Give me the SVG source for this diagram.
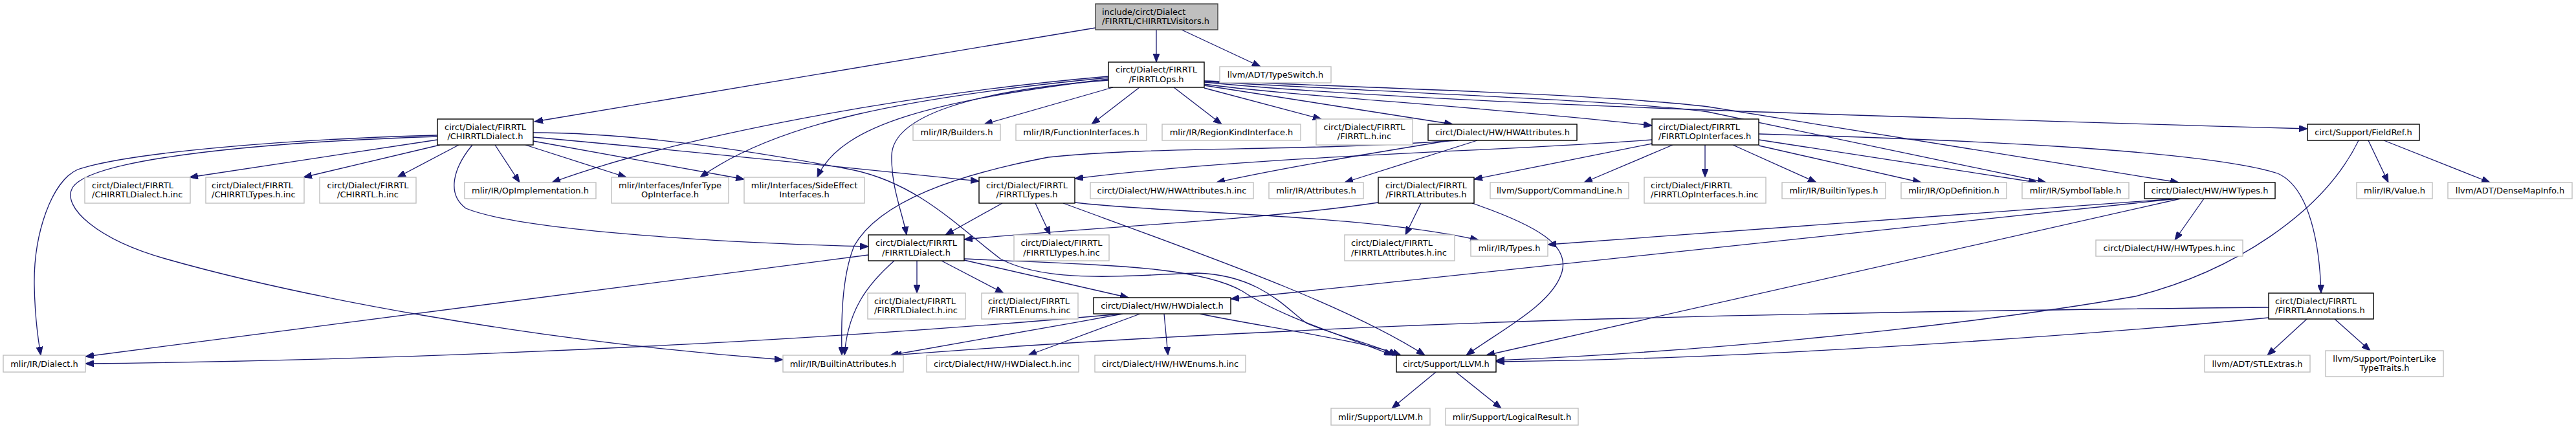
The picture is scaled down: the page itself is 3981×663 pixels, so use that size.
<svg xmlns="http://www.w3.org/2000/svg" width="3981" height="663" viewBox="0 0 3981 663">
<style>
text{font-family:"DejaVu Sans","Liberation Sans",sans-serif;font-size:13px;fill:#000}
.m{text-anchor:middle}
.d rect{fill:#fff;stroke:#000;stroke-width:1.4}
.u rect{fill:#fff;stroke:#bfbfbf;stroke-width:1.4}
.r rect{fill:#bfbfbf;stroke:#404040;stroke-width:1.4}
#edges path{fill:none;stroke:#191970;stroke-width:1.3;marker-end:url(#ah)}
</style>
<defs>
<marker id="ah" markerUnits="userSpaceOnUse" markerWidth="14" markerHeight="10" refX="13" refY="5" orient="auto" viewBox="0 0 14 10"><path d="M0,0 L13,5 L0,10 z" fill="#191970" stroke="#191970" stroke-width="1"/></marker>
</defs>
<rect width="3981" height="663" fill="#fff"/>
<g id="edges">
<path d="M1693,43 L826,188"/>
<path d="M1787,46 L1787,96"/>
<path d="M1826,46 L1948,103"/>
<path d="M1720,135 L1521,192"/>
<path d="M1761,135 L1687,192"/>
<path d="M1814,135 L1888,192"/>
<path d="M1861,136 L2042,184"/>
<path d="M1861,132 L2245,192"/>
<path d="M1861,130 C1990,148 2300,165 2553,194"/>
<path d="M1861,127 C2200,160 2900,180 3566,199"/>
<path d="M1861,126 C2250,148 2500,155 2640,173 L3162,282"/>
<path d="M1861,125 C2200,138 2500,148 2640,165 L3367,282"/>
<path d="M1713,118 C1400,145 1050,210 853,282"/>
<path d="M1713,120 C1400,150 1200,190 1082,274"/>
<path d="M1713,122 C1450,155 1300,190 1263,274"/>
<path d="M1713,124 C1500,140 1380,180 1378,240 C1377,290 1395,330 1401,363"/>
<path d="M676,216 L293,274"/>
<path d="M680,224 L469,274"/>
<path d="M709,224 L614,274"/>
<path d="M676,209 C450,215 200,235 120,262 C80,280 52,360 53,440 C54,500 60,530 63,549"/>
<path d="M676,211 C400,220 140,245 112,290 C95,320 150,370 256,400 C450,455 800,525 1210,556"/>
<path d="M765,224 L803,282"/>
<path d="M812,224 L968,274"/>
<path d="M824,218 L1150,277"/>
<path d="M824,212 C1050,232 1300,258 1513,280"/>
<path d="M824,205 C1000,205 1200,240 1320,263 C1420,285 1480,350 1546,400 C1620,440 1750,425 1850,422 C1950,425 1990,480 2020,500 C2070,520 2130,535 2159,549"/>
<path d="M730,224 C700,260 690,300 720,322 C800,355 1100,375 1342,381"/>
<path d="M1549,314 L1461,363"/>
<path d="M1600,314 L1623,363"/>
<path d="M1643,314 C1850,390 2080,470 2202,549"/>
<path d="M1661,313 C1800,330 2100,330 2285,371"/>
<path d="M2130,313 C1950,340 1700,350 1490,370"/>
<path d="M2196,314 L2172,363"/>
<path d="M2275,314 C2380,350 2425,380 2414,420 C2400,470 2320,510 2266,549"/>
<path d="M2553,216 C2300,235 1950,240 1661,276"/>
<path d="M2553,222 L2278,277"/>
<path d="M2585,224 L2448,282"/>
<path d="M2635,224 L2635,274"/>
<path d="M2678,224 L2807,282"/>
<path d="M2718,225 L2969,282"/>
<path d="M2718,216 L3148,282"/>
<path d="M2718,207 C3000,215 3400,230 3520,268 C3570,290 3585,380 3587,453"/>
<path d="M2241,217 C2100,240 1980,260 1880,282"/>
<path d="M2283,217 L2078,282"/>
<path d="M2253,217 C2000,235 1800,225 1620,243 C1480,270 1360,310 1320,380 C1300,430 1300,500 1301,549"/>
<path d="M1417,403 L1417,453"/>
<path d="M1455,403 L1551,453"/>
<path d="M1490,402 L1744,460"/>
<path d="M1342,394 L132,551"/>
<path d="M1382,403 C1340,440 1310,480 1305,549"/>
<path d="M1490,400 C1700,410 1850,410 1920,450 C1980,490 2080,520 2152,549"/>
<path d="M1734,485 C1400,515 800,555 132,562"/>
<path d="M1735,485 C1600,510 1450,535 1376,549"/>
<path d="M1762,485 L1589,549"/>
<path d="M1799,485 L1805,549"/>
<path d="M1854,485 C1950,505 2100,525 2165,549"/>
<path d="M3406,307 L3361,371"/>
<path d="M3365,307 C3200,318 2800,350 2392,378"/>
<path d="M3365,307 C3150,330 2500,400 1902,462"/>
<path d="M3370,307 L2297,549"/>
<path d="M3645,217 C3590,330 3450,420 3300,458 C3000,510 2600,545 2312,557"/>
<path d="M3660,217 L3691,282"/>
<path d="M3684,217 L3848,282"/>
<path d="M3506,475 C3000,480 2400,490 1990,512 C1700,525 1500,540 1380,549"/>
<path d="M3506,491 C3200,520 2700,555 2312,559"/>
<path d="M3565,493 L3504,549"/>
<path d="M3608,493 L3663,542"/>
<path d="M2219,575 L2151,631"/>
<path d="M2250,575 L2320,631"/>
</g>
<g id="n0" class="r"><rect x="1693" y="6" width="189" height="40"/><text x="1703" y="22.5">include/circt/Dialect</text><text x="1703" y="37">/FIRRTL/CHIRRTLVisitors.h</text></g>
<g id="n1" class="d"><rect x="1713" y="96" width="148" height="39"/><text class="m" x="1787" y="112">circt/Dialect/FIRRTL</text><text class="m" x="1787" y="126.5">/FIRRTLOps.h</text></g>
<g id="n2" class="u"><rect x="1885" y="103" width="172" height="25"/><text class="m" x="1971" y="120">llvm/ADT/TypeSwitch.h</text></g>
<g id="n3" class="d"><rect x="676" y="184" width="148" height="40"/><text class="m" x="750" y="200.5">circt/Dialect/FIRRTL</text><text class="m" x="750" y="215">/CHIRRTLDialect.h</text></g>
<g id="n4" class="u"><rect x="1411" y="192" width="135" height="25"/><text class="m" x="1478.5" y="208.5">mlir/IR/Builders.h</text></g>
<g id="n5" class="u"><rect x="1570" y="192" width="202" height="25"/><text class="m" x="1671" y="208.5">mlir/IR/FunctionInterfaces.h</text></g>
<g id="n6" class="u"><rect x="1796" y="192" width="214" height="25"/><text class="m" x="1903" y="208.5">mlir/IR/RegionKindInterface.h</text></g>
<g id="n7" class="u"><rect x="2034" y="184" width="149" height="40"/><text class="m" x="2108.5" y="200.5">circt/Dialect/FIRRTL</text><text class="m" x="2108.5" y="215">/FIRRTL.h.inc</text></g>
<g id="n8" class="d"><rect x="2207" y="192" width="230" height="25"/><text class="m" x="2322" y="208.5">circt/Dialect/HW/HWAttributes.h</text></g>
<g id="n9" class="d"><rect x="2553" y="184" width="165" height="40"/><text x="2563" y="200.5">circt/Dialect/FIRRTL</text><text x="2563" y="215">/FIRRTLOpInterfaces.h</text></g>
<g id="n10" class="d"><rect x="3566" y="192" width="173" height="25"/><text class="m" x="3652.5" y="208.5">circt/Support/FieldRef.h</text></g>
<g id="n11" class="u"><rect x="131" y="274" width="163" height="40"/><text x="142" y="290.5">circt/Dialect/FIRRTL</text><text x="142" y="305">/CHIRRTLDialect.h.inc</text></g>
<g id="n12" class="u"><rect x="318" y="274" width="152" height="40"/><text x="327" y="290.5">circt/Dialect/FIRRTL</text><text x="327" y="305">/CHIRRTLTypes.h.inc</text></g>
<g id="n13" class="u"><rect x="494" y="274" width="149" height="40"/><text class="m" x="568.5" y="290.5">circt/Dialect/FIRRTL</text><text class="m" x="568.5" y="305">/CHIRRTL.h.inc</text></g>
<g id="n14" class="u"><rect x="718" y="282" width="203" height="25"/><text class="m" x="819.5" y="298.5">mlir/IR/OpImplementation.h</text></g>
<g id="n15" class="u"><rect x="945" y="274" width="181" height="40"/><text class="m" x="1035.5" y="290.5">mlir/Interfaces/InferType</text><text class="m" x="1035.5" y="305">OpInterface.h</text></g>
<g id="n16" class="u"><rect x="1150" y="274" width="186" height="40"/><text class="m" x="1243" y="290.5">mlir/Interfaces/SideEffect</text><text class="m" x="1243" y="305">Interfaces.h</text></g>
<g id="n17" class="d"><rect x="1513" y="274" width="148" height="40"/><text class="m" x="1587" y="290.5">circt/Dialect/FIRRTL</text><text class="m" x="1587" y="305">/FIRRTLTypes.h</text></g>
<g id="n18" class="u"><rect x="1685" y="282" width="252" height="25"/><text class="m" x="1811" y="298.5">circt/Dialect/HW/HWAttributes.h.inc</text></g>
<g id="n19" class="u"><rect x="1961" y="282" width="146" height="25"/><text class="m" x="2034" y="298.5">mlir/IR/Attributes.h</text></g>
<g id="n20" class="d"><rect x="2130" y="274" width="148" height="40"/><text class="m" x="2204" y="290.5">circt/Dialect/FIRRTL</text><text class="m" x="2204" y="305">/FIRRTLAttributes.h</text></g>
<g id="n21" class="u"><rect x="2303" y="282" width="214" height="25"/><text class="m" x="2410" y="298.5">llvm/Support/CommandLine.h</text></g>
<g id="n22" class="u"><rect x="2541" y="274" width="188" height="40"/><text x="2551" y="290.5">circt/Dialect/FIRRTL</text><text x="2551" y="305">/FIRRTLOpInterfaces.h.inc</text></g>
<g id="n23" class="u"><rect x="2754" y="282" width="160" height="25"/><text class="m" x="2834" y="298.5">mlir/IR/BuiltinTypes.h</text></g>
<g id="n24" class="u"><rect x="2938" y="282" width="163" height="25"/><text class="m" x="3019.5" y="298.5">mlir/IR/OpDefinition.h</text></g>
<g id="n25" class="u"><rect x="3125" y="282" width="165" height="25"/><text class="m" x="3207.5" y="298.5">mlir/IR/SymbolTable.h</text></g>
<g id="n26" class="d"><rect x="3314" y="282" width="202" height="25"/><text class="m" x="3415" y="298.5">circt/Dialect/HW/HWTypes.h</text></g>
<g id="n27" class="u"><rect x="3642" y="282" width="117" height="25"/><text class="m" x="3700.5" y="298.5">mlir/IR/Value.h</text></g>
<g id="n28" class="u"><rect x="3783" y="282" width="192" height="25"/><text class="m" x="3879" y="298.5">llvm/ADT/DenseMapInfo.h</text></g>
<g id="n29" class="d"><rect x="1342" y="363" width="148" height="40"/><text class="m" x="1416" y="380">circt/Dialect/FIRRTL</text><text class="m" x="1416" y="394.5">/FIRRTLDialect.h</text></g>
<g id="n30" class="u"><rect x="1567" y="363" width="147" height="40"/><text class="m" x="1640.5" y="380">circt/Dialect/FIRRTL</text><text class="m" x="1640.5" y="394.5">/FIRRTLTypes.h.inc</text></g>
<g id="n31" class="u"><rect x="2078" y="363" width="170" height="40"/><text x="2088" y="380">circt/Dialect/FIRRTL</text><text x="2088" y="394.5">/FIRRTLAttributes.h.inc</text></g>
<g id="n32" class="u"><rect x="2273" y="371" width="119" height="25"/><text class="m" x="2332.5" y="387.5">mlir/IR/Types.h</text></g>
<g id="n33" class="u"><rect x="3239" y="371" width="227" height="25"/><text class="m" x="3352.5" y="387.5">circt/Dialect/HW/HWTypes.h.inc</text></g>
<g id="n34" class="u"><rect x="1341" y="453" width="151" height="40"/><text x="1351" y="469.5">circt/Dialect/FIRRTL</text><text x="1351" y="484">/FIRRTLDialect.h.inc</text></g>
<g id="n35" class="u"><rect x="1517" y="453" width="149" height="40"/><text x="1527" y="469.5">circt/Dialect/FIRRTL</text><text x="1527" y="484">/FIRRTLEnums.h.inc</text></g>
<g id="n36" class="d"><rect x="1690" y="460" width="212" height="25"/><text class="m" x="1796" y="477">circt/Dialect/HW/HWDialect.h</text></g>
<g id="n37" class="d"><rect x="3506" y="453" width="162" height="40"/><text x="3516" y="469.5">circt/Dialect/FIRRTL</text><text x="3516" y="484">/FIRRTLAnnotations.h</text></g>
<g id="n38" class="u"><rect x="5" y="549" width="127" height="26"/><text class="m" x="68.5" y="566.5">mlir/IR/Dialect.h</text></g>
<g id="n39" class="u"><rect x="1210" y="549" width="186" height="26"/><text class="m" x="1303" y="566.5">mlir/IR/BuiltinAttributes.h</text></g>
<g id="n40" class="u"><rect x="1432" y="549" width="235" height="26"/><text class="m" x="1549.5" y="566.5">circt/Dialect/HW/HWDialect.h.inc</text></g>
<g id="n41" class="u"><rect x="1692" y="549" width="233" height="26"/><text class="m" x="1808.5" y="566.5">circt/Dialect/HW/HWEnums.h.inc</text></g>
<g id="n42" class="d"><rect x="2158" y="549" width="154" height="26"/><text class="m" x="2235" y="566.5">circt/Support/LLVM.h</text></g>
<g id="n43" class="u"><rect x="3407" y="549" width="163" height="26"/><text class="m" x="3488.5" y="566.5">llvm/ADT/STLExtras.h</text></g>
<g id="n44" class="u"><rect x="3594" y="542" width="182" height="40"/><text class="m" x="3685" y="558.5">llvm/Support/PointerLike</text><text class="m" x="3685" y="573">TypeTraits.h</text></g>
<g id="n45" class="u"><rect x="2057" y="631" width="153" height="26"/><text class="m" x="2133.5" y="648.5">mlir/Support/LLVM.h</text></g>
<g id="n46" class="u"><rect x="2234" y="631" width="205" height="26"/><text class="m" x="2336.5" y="648.5">mlir/Support/LogicalResult.h</text></g>
</svg>
